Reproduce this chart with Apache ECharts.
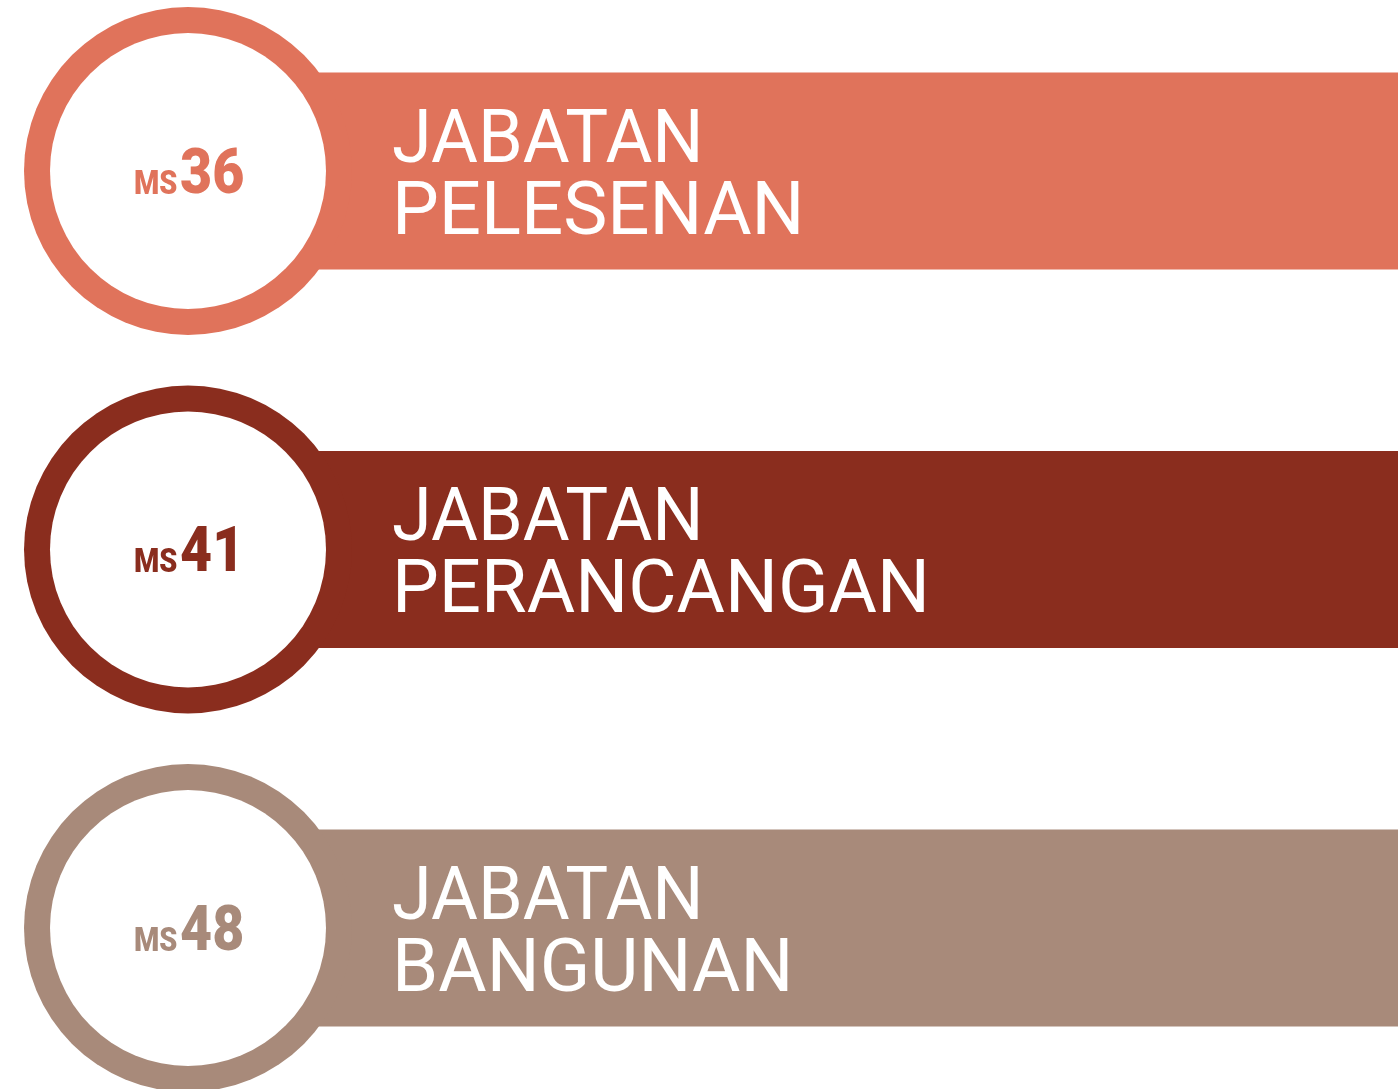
<!DOCTYPE html>
<html>

<head>
  <meta charset="utf-8" />
  <title></title>
  <script src="https://cdn.jsdelivr.net/npm/echarts@6/dist/echarts.min.js"></script>
  <style>
    html, body { margin: 0; padding: 0; background: #fff; }
  </style>
</head>

<body>
  <div id="main" style="width: 1398px;height:1089px;"></div>
  <script type="text/javascript">
    // data
    var pages = [36, 41, 48];
    var titleTop = ['JABATAN', 'JABATAN', 'JABATAN'];
    var titleBottom = ['PELESENAN', 'PERANCANGAN', 'BANGUNAN'];
    var colors = ['#E0735B', '#8A2D1E', '#A88A7A'];

    var outerR = 164, innerR = 138, barHalf = 98.5;

    var chart = echarts.init(document.getElementById('main'));
    var option = {
      animation: false,
      grid: { left: 188, right: 0, top: 171, bottom: 161 },
      xAxis: { type: 'value', min: 0, max: 1, show: false },
      yAxis: { type: 'value', min: 0, max: 2, inverse: true, show: false },
      series: [{
        type: 'custom',
        clip: false,
        data: pages.map(function (p, i) { return [0, i]; }),
        renderItem: function (params, api) {
          var i = params.dataIndex;
          var c = api.coord([api.value(0), api.value(1)]);
          var cx = c[0], cy = c[1];
          var right = params.coordSys.x + params.coordSys.width;
          var col = colors[i];
          return {
            type: 'group',
            children: [
              { type: 'rect', shape: { x: cx, y: cy - barHalf, width: right - cx, height: barHalf * 2 }, style: { fill: col } },
              { type: 'circle', shape: { cx: cx, cy: cy, r: outerR }, style: { fill: col } },
              { type: 'circle', shape: { cx: cx, cy: cy, r: innerR }, style: { fill: '#fff' } },
              {
                type: 'text', x: cx - 54, y: cy + 14, scaleX: 0.85,
                style: { text: 'MS', fill: col, font: '900 34px Roboto', align: 'left', verticalAlign: 'middle' }
              },
              {
                type: 'text', x: cx - 8, y: cy + 6, scaleX: 0.88,
                style: { text: String(pages[i]), fill: col, font: '900 63px Roboto', align: 'left', verticalAlign: 'middle' }
              },
              {
                type: 'text', x: cx + 204, y: cy - 28, scaleX: 0.96,
                style: { text: titleTop[i], fill: '#fff', font: '400 75px Roboto', align: 'left', verticalAlign: 'middle' }
              },
              {
                type: 'text', x: cx + 204, y: cy + 44, scaleX: 0.99,
                style: { text: titleBottom[i], fill: '#fff', font: '400 75px Roboto', align: 'left', verticalAlign: 'middle' }
              }
            ]
          };
        }
      }]
    };
    chart.setOption(option);

    window.onresize = function () {
      chart.resize();
    };
  </script>
</body>

</html>
